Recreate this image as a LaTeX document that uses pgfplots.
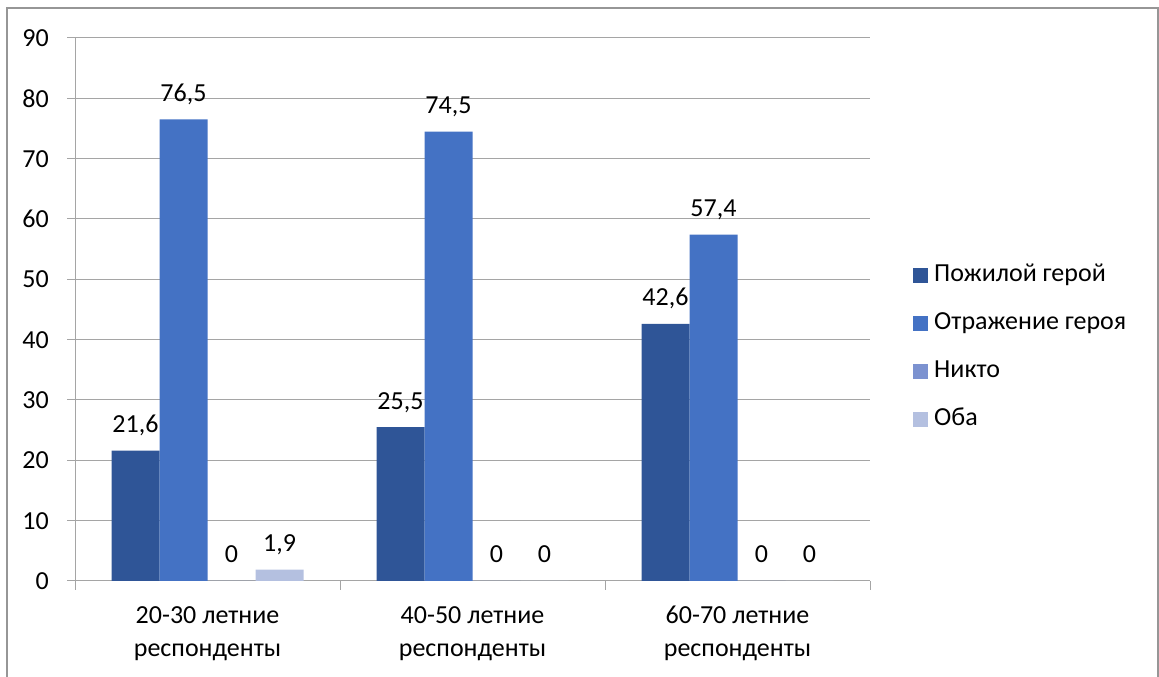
\documentclass[border=0pt]{standalone}
\usepackage{fontspec}
\setmainfont{Carlito}
\usepackage{pgfplots}
\pgfplotsset{compat=1.18}
\definecolor{c1}{RGB}{47,85,151}
\definecolor{c2}{RGB}{68,114,196}
\definecolor{c3}{RGB}{124,146,208}
\definecolor{c4}{RGB}{180,192,224}
\definecolor{gridc}{RGB}{165,165,165}
\definecolor{framec}{RGB}{150,150,150}
\begin{document}
\fontsize{26}{32}\selectfont
\begin{tikzpicture}[x=1pt,y=1pt]
\path[use as bounding box] (0,0) rectangle (1159,677);
\draw[framec, line width=1.5pt] (7,0) -- (7,669) -- (1158,669) -- (1158,0);
\begin{axis}[
  at={(75pt,96pt)}, anchor=south west,
  scale only axis, width=795pt, height=543pt,
  clip=false,
  ybar=0pt, bar width=48pt,
  xmin=-0.5, xmax=2.5, ymin=0, ymax=90,
  ytick={0,10,...,90},
  xtick={0,1,2},
  xticklabels={{20-30 летние\\респонденты},{40-50 летние\\респонденты},{60-70 летние\\респонденты}},
  xticklabel style={align=center, anchor=north, inner sep=0pt, yshift=-17pt, font=\fontsize{26}{33}\selectfont},
  yticklabel style={anchor=east, inner sep=0pt, xshift=-18pt, font=\fontsize{26}{32}\selectfont},
  axis x line*=bottom, axis y line*=left,
  axis line style={gridc, line width=1pt},
  ymajorgrids, major grid style={gridc, line width=1pt},
  tick align=outside,
  major tick length=8pt,
  ytick style={draw=gridc, line width=1pt},
  xtick style={draw=none},
  extra x ticks={-0.5,0.5,1.5,2.5},
  extra x tick labels={},
  extra x tick style={major tick length=9pt, xtick style={draw=gridc, line width=1pt}, grid=none},
  /pgf/number format/use comma,
  /pgf/number format/assume math mode=true,
  nodes near coords,
  every node near coord/.append style={anchor=base, yshift=18pt, inner sep=0pt, font=\fontsize{26}{32}\selectfont, text=black},
  legend image code/.code={\fill[#1] (0pt,-7.5pt) rectangle (15pt,7.5pt); \path (18pt,0pt);},
  legend style={at={(1.0535,0.43)}, anchor=west, draw=none, fill=none,
    legend cell align=left, row sep=21.8pt, inner sep=0pt,
    nodes={inner xsep=3.5pt, inner ysep=0pt, text height=19pt, text depth=7pt},
    font=\fontsize{26}{32}\selectfont},
]
\addplot[fill=c1, draw=none] coordinates {(0,21.6) (1,25.5) (2,42.6)};
\addplot[fill=c2, draw=none] coordinates {(0,76.5) (1,74.5) (2,57.4)};
\addplot[fill=c3, draw=none] coordinates {(0,0) (1,0) (2,0)};
\addplot[fill=c4, draw=none] coordinates {(0,1.9) (1,0) (2,0)};
\legend{Пожилой герой, Отражение героя, Никто, Оба}
\end{axis}
\end{tikzpicture}
\end{document}
